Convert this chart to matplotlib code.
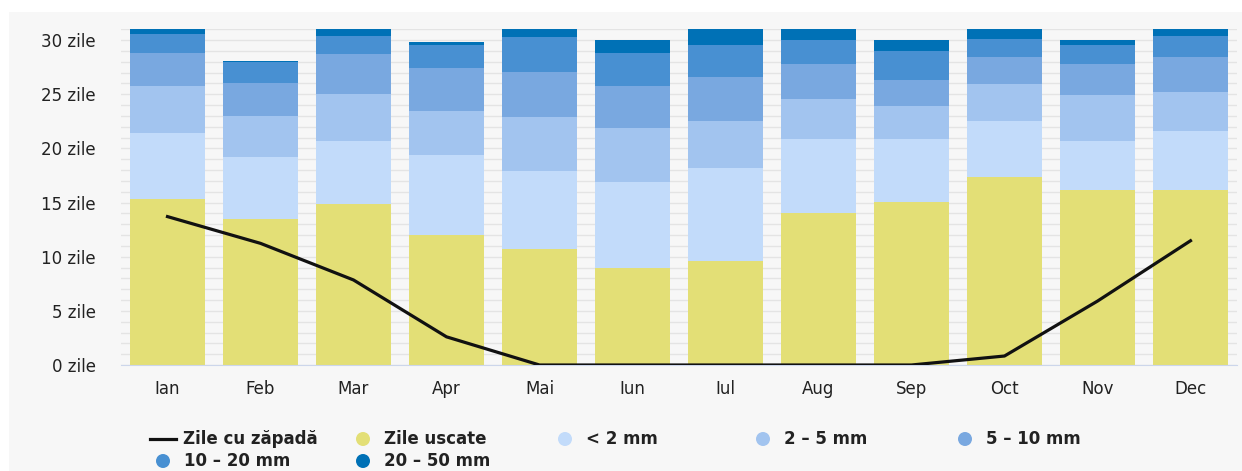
import matplotlib
matplotlib.use("Agg")
import matplotlib.pyplot as plt
import numpy as np
from matplotlib.patches import Rectangle, Ellipse
from matplotlib.lines import Line2D

plt.rcParams["font.family"] = ["DejaVu Sans"]

# data (days per month)
months = ["Ian", "Feb", "Mar", "Apr", "Mai", "Iun", "Iul", "Aug", "Sep", "Oct", "Nov", "Dec"]
dry_days = [15.3, 13.45, 14.86, 11.97, 10.68, 8.92, 9.63, 14.0, 15.05, 17.32, 16.18, 16.18]
rain_lt2 = [6.1, 5.75, 5.82, 7.41, 7.22, 7.98, 8.57, 6.83, 5.78, 5.23, 4.53, 5.39]
rain_2_5 = [4.35, 3.8, 4.32, 4.07, 4.96, 4.95, 4.35, 3.77, 3.05, 3.35, 4.18, 3.6]
rain_5_10 = [3.05, 3.05, 3.68, 3.93, 4.22, 3.9, 4.05, 3.18, 2.46, 2.5, 2.92, 3.23]
rain_10_20 = [1.75, 1.9, 1.72, 2.16, 3.17, 3.08, 2.94, 2.19, 2.61, 1.73, 1.76, 2.0]
rain_20_50 = [0.45, 0.15, 0.6, 0.31, 0.75, 1.17, 1.46, 1.03, 1.05, 0.87, 0.43, 0.6]
snow_days = [13.7, 11.23, 7.85, 2.6, 0.0, 0.0, 0.0, 0.0, 0.0, 0.83, 5.9, 11.47]

series_labels = ["Zile uscate", "< 2 mm", "2 – 5 mm", "5 – 10 mm", "10 – 20 mm", "20 – 50 mm"]
series_colors = ["#e3df76", "#c2dbfa", "#a2c4ef", "#79a8e0", "#4890d2", "#0071b6"]
line_label = "Zile cu zăpadă"

W, H = 1242, 471
fig = plt.figure(figsize=(W / 100, H / 100), dpi=100, facecolor="white")
# light grey panel behind the chart
fig.add_artist(Rectangle((9 / W, 0), 1 - 9 / W, (H - 12) / H, transform=fig.transFigure,
                         facecolor="#f7f7f7", edgecolor="none", zorder=0))

ax = fig.add_axes([121 / W, 1 - 365 / H, (1237 - 121) / W, (365 - 29.2) / H])
ax.set_facecolor("#f7f7f7")

x = np.arange(len(months))
bottom = np.zeros(len(months))
for vals, col in zip([dry_days, rain_lt2, rain_2_5, rain_5_10, rain_10_20, rain_20_50], series_colors):
    ax.bar(x, vals, width=0.806, bottom=bottom, color=col, edgecolor="none", zorder=2)
    bottom += np.array(vals)

ax.plot(x, snow_days, color="#111111", lw=2.3, zorder=3, solid_joinstyle="round")

ax.set_xlim(-0.5, 11.5)
ax.set_ylim(0, 31)
ax.set_yticks(range(0, 31, 5))
ax.set_yticklabels([f"{v} zile" for v in range(0, 31, 5)], fontsize=12, color="#222222")
ax.set_yticks(range(0, 32), minor=True)
ax.grid(axis="y", which="both", color="#e4e4e4", lw=1, zorder=0)
ax.set_axisbelow(True)
ax.set_xticks(x)
ax.set_xticklabels(months, fontsize=12, color="#222222")
ax.tick_params(axis="both", which="both", length=0)
ax.tick_params(axis="y", pad=18)
ax.tick_params(axis="x", pad=11)
for s in ["top", "right", "left"]:
    ax.spines[s].set_visible(False)
ax.spines["bottom"].set_color("#ccd6eb")

# legend drawn by hand, in pixel positions
def px(xp, yp):
    return xp / W, 1 - yp / H

items = [
    (line_label, None, 150, 439),
    (series_labels[0], series_colors[0], 363, 439),
    (series_labels[1], series_colors[1], 565, 439),
    (series_labels[2], series_colors[2], 763, 439),
    (series_labels[3], series_colors[3], 965, 439),
    (series_labels[4], series_colors[4], 163, 461),
    (series_labels[5], series_colors[5], 363, 461),
]
for label, col, xp, yp in items:
    if col is None:
        x0, y0 = px(xp, yp)
        x1, _ = px(xp + 26, yp)
        fig.add_artist(Line2D([x0, x1], [y0, y0], color="#111111", lw=2.3, transform=fig.transFigure))
        tx = xp + 33
    else:
        cx, cy = px(xp, yp)
        fig.add_artist(Ellipse((cx, cy), 14 / W, 14 / H, transform=fig.transFigure,
                               facecolor=col, edgecolor="none"))
        tx = xp + 21
    fig.text(*px(tx, yp), label, fontsize=12, fontweight="bold", color="#222222",
             ha="left", va="center")

fig.savefig("out.png", dpi=100, facecolor="white")
